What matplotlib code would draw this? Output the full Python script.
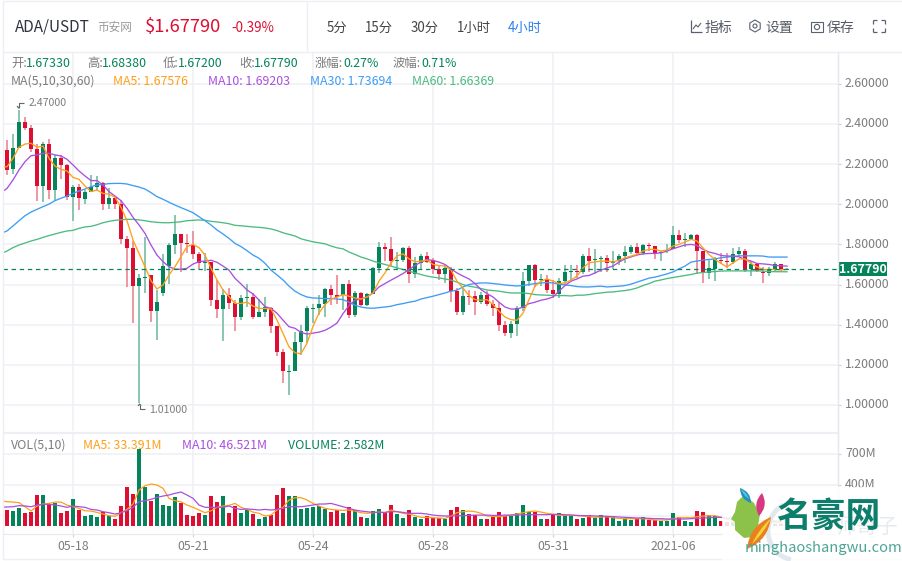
import numpy as np
import matplotlib
matplotlib.use('Agg')
import matplotlib.pyplot as plt
from matplotlib.patches import Arc, Circle, PathPatch, Polygon, Rectangle, RegularPolygon
from matplotlib.path import Path
from matplotlib.transforms import ScaledTranslation

plt.rcParams['font.family'] = ['Noto Sans CJK SC', 'DejaVu Sans']

# OHLC per 4h candle
highs = [2.32, 2.35, 2.47, 2.435, 2.395, 2.30, 2.31, 2.325, 2.245, 2.245,
         2.20, 2.096, 2.10, 2.07, 2.146, 2.14, 2.11, 2.08, 2.04, 2.02,
         1.84, 1.817, 1.652, 1.837, 1.648, 1.573, 1.752, 1.807, 1.947, 1.852,
         1.852, 1.867, 1.762, 1.757, 1.712, 1.623, 1.578, 1.583, 1.523, 1.548,
         1.603, 1.558, 1.528, 1.538, 1.488, 1.393, 1.279, 1.199, 1.363, 1.40,
         1.495, 1.505, 1.55, 1.585, 1.60, 1.65, 1.605, 1.625, 1.57, 1.565,
         1.56, 1.685, 1.81, 1.805, 1.835, 1.76, 1.785, 1.79, 1.735, 1.75,
         1.76, 1.73, 1.695, 1.695, 1.685, 1.585, 1.585, 1.575, 1.57, 1.565,
         1.57, 1.525, 1.515, 1.42, 1.42, 1.495, 1.665, 1.695, 1.70, 1.655,
         1.65, 1.625, 1.635, 1.695, 1.695, 1.695, 1.75, 1.78, 1.775, 1.74,
         1.745, 1.765, 1.75, 1.79, 1.795, 1.805, 1.80, 1.805, 1.79, 1.765,
         1.80, 1.89, 1.87, 1.855, 1.85, 1.85, 1.765, 1.725, 1.735, 1.755,
         1.755, 1.78, 1.785, 1.775, 1.715, 1.708, 1.685, 1.685, 1.71, 1.70, 1.6838]
lows = [2.146, 2.15, 2.28, 2.37, 2.26, 2.016, 2.01, 2.026, 2.016, 2.126,
        2.02, 1.917, 1.97, 2.00, 2.06, 2.066, 1.97, 1.976, 1.976, 1.80,
        1.588, 1.408, 1.01, 1.558, 1.413, 1.324, 1.543, 1.603, 1.752, 1.662,
        1.757, 1.727, 1.677, 1.667, 1.493, 1.432, 1.319, 1.478, 1.368, 1.423,
        1.488, 1.428, 1.438, 1.438, 1.358, 1.244, 1.109, 1.05, 1.169, 1.25,
        1.31, 1.41, 1.45, 1.44, 1.50, 1.505, 1.475, 1.435, 1.44, 1.495,
        1.495, 1.555, 1.66, 1.715, 1.69, 1.675, 1.71, 1.61, 1.635, 1.675,
        1.705, 1.655, 1.625, 1.61, 1.515, 1.45, 1.45, 1.50, 1.45, 1.505,
        1.495, 1.445, 1.37, 1.345, 1.335, 1.345, 1.47, 1.595, 1.59, 1.595,
        1.56, 1.535, 1.535, 1.605, 1.62, 1.635, 1.655, 1.665, 1.655, 1.665,
        1.665, 1.675, 1.695, 1.705, 1.75, 1.745, 1.745, 1.765, 1.725, 1.715,
        1.755, 1.775, 1.805, 1.785, 1.82, 1.655, 1.61, 1.63, 1.62, 1.70,
        1.68, 1.70, 1.742, 1.665, 1.645, 1.665, 1.61, 1.645, 1.67, 1.67, 1.672]
opens = [2.27, 2.176, 2.28, 2.41, 2.38, 2.275, 2.09, 2.30, 2.07, 2.23,
         2.196, 2.036, 2.086, 2.026, 2.06, 2.086, 2.106, 2.00, 2.03, 2.00,
         1.827, 1.782, 1.593, 1.633, 1.648, 1.468, 1.558, 1.692, 1.797, 1.852,
         1.807, 1.797, 1.752, 1.707, 1.712, 1.523, 1.478, 1.548, 1.508, 1.438,
         1.533, 1.538, 1.438, 1.463, 1.483, 1.393, 1.264, 1.164, 1.169, 1.315,
         1.37, 1.48, 1.485, 1.505, 1.58, 1.55, 1.55, 1.605, 1.45, 1.56,
         1.50, 1.555, 1.68, 1.785, 1.775, 1.715, 1.72, 1.78, 1.655, 1.705,
         1.74, 1.72, 1.675, 1.655, 1.675, 1.57, 1.465, 1.545, 1.545, 1.515,
         1.55, 1.505, 1.485, 1.40, 1.36, 1.405, 1.485, 1.62, 1.695, 1.625,
         1.63, 1.575, 1.555, 1.62, 1.665, 1.67, 1.665, 1.74, 1.72, 1.725,
         1.73, 1.705, 1.715, 1.74, 1.76, 1.785, 1.755, 1.795, 1.79, 1.755,
         1.765, 1.775, 1.845, 1.82, 1.825, 1.845, 1.765, 1.66, 1.675, 1.72,
         1.715, 1.71, 1.75, 1.765, 1.675, 1.70, 1.663, 1.658, 1.675, 1.70, 1.6733]
closes = [2.17, 2.28, 2.41, 2.38, 2.275, 2.09, 2.30, 2.07, 2.23, 2.196,
          2.036, 2.086, 2.03, 2.06, 2.086, 2.106, 2.00, 2.03, 2.00, 1.827,
          1.782, 1.593, 1.633, 1.638, 1.468, 1.513, 1.692, 1.797, 1.852, 1.807,
          1.802, 1.752, 1.707, 1.712, 1.523, 1.478, 1.548, 1.508, 1.438, 1.533,
          1.538, 1.438, 1.463, 1.488, 1.393, 1.264, 1.169, 1.169, 1.314, 1.37,
          1.485, 1.485, 1.505, 1.58, 1.55, 1.54, 1.605, 1.45, 1.56, 1.50,
          1.555, 1.68, 1.785, 1.775, 1.715, 1.72, 1.78, 1.655, 1.705, 1.74,
          1.71, 1.675, 1.655, 1.68, 1.57, 1.465, 1.545, 1.54, 1.515, 1.55,
          1.505, 1.485, 1.40, 1.36, 1.405, 1.485, 1.62, 1.695, 1.625, 1.63,
          1.575, 1.555, 1.62, 1.665, 1.67, 1.665, 1.74, 1.715, 1.725, 1.73,
          1.705, 1.715, 1.74, 1.76, 1.785, 1.755, 1.795, 1.79, 1.755, 1.76,
          1.77, 1.845, 1.82, 1.825, 1.845, 1.765, 1.66, 1.68, 1.725, 1.715,
          1.71, 1.75, 1.765, 1.675, 1.70, 1.67, 1.658, 1.678, 1.70, 1.675, 1.6779]

# moving averages start one candle before the first visible one
ma5 = [2.186, 2.187, 2.229, 2.284, 2.30, 2.304, 2.284, 2.29, 2.229, 2.19, 2.174,
       2.166, 2.134, 2.124, 2.091, 2.063, 2.071, 2.054, 2.05, 2.035, 1.985,
       1.918, 1.822, 1.755, 1.689, 1.619, 1.578, 1.598, 1.648, 1.689, 1.739,
       1.789, 1.80, 1.784, 1.747, 1.681, 1.623, 1.573, 1.54, 1.506, 1.506,
       1.513, 1.493, 1.481, 1.481, 1.478, 1.423, 1.357, 1.29, 1.26, 1.255,
       1.308, 1.392, 1.458, 1.50, 1.528, 1.538, 1.55, 1.542, 1.533, 1.528,
       1.538, 1.558, 1.617, 1.658, 1.708, 1.742, 1.753, 1.728, 1.713, 1.717,
       1.722, 1.70, 1.695, 1.692, 1.672, 1.617, 1.583, 1.545, 1.525, 1.522,
       1.525, 1.50, 1.467, 1.438, 1.425, 1.422, 1.458, 1.525, 1.592, 1.617,
       1.628, 1.617, 1.605, 1.608, 1.622, 1.642, 1.683, 1.708, 1.713, 1.717,
       1.717, 1.712, 1.722, 1.733, 1.742, 1.75, 1.767, 1.775, 1.775, 1.767,
       1.772, 1.792, 1.80, 1.812, 1.825, 1.817, 1.783, 1.75, 1.725, 1.705,
       1.688, 1.708, 1.728, 1.728, 1.705, 1.688, 1.675, 1.675, 1.675, 1.673, 1.6758]
ma10 = [2.058, 2.079, 2.121, 2.171, 2.212, 2.242, 2.246, 2.254, 2.254, 2.246, 2.241,
        2.224, 2.196, 2.166, 2.141, 2.118, 2.118, 2.096, 2.063, 2.041, 2.018,
        1.98, 1.935, 1.897, 1.855, 1.797, 1.747, 1.714, 1.689, 1.677, 1.676,
        1.681, 1.702, 1.714, 1.717, 1.721, 1.711, 1.692, 1.672, 1.631, 1.603,
        1.573, 1.553, 1.523, 1.49, 1.481, 1.457, 1.423, 1.39, 1.382, 1.362,
        1.353, 1.358, 1.363, 1.372, 1.388, 1.408, 1.455, 1.495, 1.522, 1.528,
        1.538, 1.558, 1.588, 1.605, 1.622, 1.638, 1.655, 1.675, 1.695, 1.712,
        1.725, 1.72, 1.712, 1.70, 1.678, 1.658, 1.642, 1.628, 1.605, 1.575,
        1.555, 1.538, 1.512, 1.488, 1.478, 1.478, 1.488, 1.505, 1.512, 1.522,
        1.528, 1.538, 1.567, 1.595, 1.617, 1.628, 1.642, 1.645, 1.658, 1.672,
        1.683, 1.692, 1.712, 1.728, 1.738, 1.747, 1.753, 1.755, 1.755, 1.758,
        1.767, 1.778, 1.788, 1.797, 1.80, 1.795, 1.775, 1.762, 1.755, 1.745,
        1.742, 1.742, 1.738, 1.725, 1.717, 1.705, 1.703, 1.70, 1.695, 1.693, 1.692]
ma30 = [1.855, 1.867, 1.892, 1.918, 1.943, 1.961, 1.975, 1.988, 2.001, 2.018, 2.03,
        2.041, 2.054, 2.066, 2.076, 2.088, 2.096, 2.099, 2.103, 2.104, 2.104,
        2.101, 2.093, 2.086, 2.076, 2.058, 2.038, 2.025, 2.01, 1.996, 1.983,
        1.971, 1.958, 1.938, 1.918, 1.897, 1.872, 1.852, 1.83, 1.805, 1.789,
        1.769, 1.747, 1.731, 1.706, 1.672, 1.648, 1.623, 1.592, 1.567, 1.55,
        1.538, 1.533, 1.532, 1.53, 1.53, 1.528, 1.525, 1.512, 1.497, 1.488,
        1.483, 1.482, 1.485, 1.488, 1.492, 1.50, 1.505, 1.512, 1.517, 1.528,
        1.535, 1.542, 1.55, 1.558, 1.567, 1.572, 1.588, 1.60, 1.605, 1.608,
        1.608, 1.605, 1.602, 1.598, 1.595, 1.593, 1.595, 1.60, 1.605, 1.608,
        1.61, 1.608, 1.602, 1.598, 1.595, 1.59, 1.588, 1.588, 1.59, 1.592,
        1.588, 1.59, 1.592, 1.595, 1.602, 1.612, 1.622, 1.632, 1.637, 1.645,
        1.653, 1.663, 1.678, 1.692, 1.712, 1.717, 1.722, 1.725, 1.728, 1.733,
        1.737, 1.74, 1.743, 1.743, 1.743, 1.743, 1.742, 1.737, 1.737, 1.737, 1.7369]
ma60 = [1.754, 1.767, 1.784, 1.797, 1.807, 1.817, 1.825, 1.835, 1.844, 1.852, 1.86,
        1.867, 1.87, 1.88, 1.887, 1.89, 1.898, 1.908, 1.915, 1.92, 1.923,
        1.925, 1.925, 1.922, 1.918, 1.913, 1.91, 1.908, 1.908, 1.91, 1.913,
        1.918, 1.92, 1.922, 1.92, 1.915, 1.912, 1.908, 1.903, 1.895, 1.893,
        1.89, 1.887, 1.885, 1.882, 1.877, 1.869, 1.858, 1.85, 1.842, 1.828,
        1.82, 1.813, 1.808, 1.803, 1.792, 1.783, 1.778, 1.762, 1.75, 1.737,
        1.728, 1.717, 1.708, 1.70, 1.692, 1.683, 1.675, 1.667, 1.658, 1.65,
        1.642, 1.637, 1.633, 1.628, 1.622, 1.612, 1.60, 1.592, 1.587, 1.58,
        1.573, 1.57, 1.567, 1.562, 1.558, 1.558, 1.558, 1.555, 1.55, 1.548,
        1.547, 1.545, 1.545, 1.545, 1.543, 1.547, 1.547, 1.55, 1.555, 1.558,
        1.562, 1.563, 1.567, 1.57, 1.575, 1.583, 1.595, 1.605, 1.617, 1.623,
        1.63, 1.635, 1.64, 1.645, 1.65, 1.657, 1.66, 1.663, 1.665, 1.667,
        1.668, 1.668, 1.668, 1.668, 1.668, 1.668, 1.667, 1.665, 1.664, 1.664, 1.6637]

# volume in millions
volumes = [155, 145, 174, 126, 135, 300, 300, 213, 223, 126,
           145, 261, 155, 97, 106, 87, 135, 97, 68, 194,
           377, 310, 745, 377, 242, 310, 203, 194, 281, 223,
           106, 97, 126, 106, 290, 232, 290, 126, 194, 126,
           155, 116, 68, 87, 106, 300, 368, 290, 290, 165,
           174, 184, 194, 165, 135, 155, 126, 184, 155, 87,
           77, 145, 165, 126, 203, 116, 77, 155, 87, 68,
           97, 77, 77, 68, 155, 184, 155, 116, 106, 68,
           68, 87, 135, 97, 97, 126, 203, 135, 135, 68,
           68, 106, 126, 106, 97, 68, 77, 106, 77, 106,
           97, 97, 48, 77, 58, 68, 87, 58, 58, 48,
           48, 126, 87, 48, 39, 145, 135, 106, 97, 48,
           39, 39, 30, 30, 39, 30, 30, 25, 20, 15, 2.6]
vol_ma5 = [242, 235, 232, 226, 187, 145, 194, 213, 219, 232, 232, 203, 187, 171, 148, 145,
           132, 116, 100, 94, 129, 161, 213, 348, 390, 406, 397, 365, 268, 245, 235, 203,
           181, 155, 129, 148, 181, 194, 200, 219, 181, 161, 135, 123, 97, 106, 155, 181,
           252, 274, 274, 252, 219, 194, 171, 161, 155, 152, 155, 145, 129, 123, 129, 135,
           129, 155, 139, 123, 116, 100, 84, 84, 81, 77, 74, 97,
           129, 139, 145, 139, 123, 97, 94, 90, 97, 106, 116, 129, 139, 145, 135, 123,
           113, 103, 103, 106, 100, 97, 90, 84, 87, 90, 81, 74, 71, 71, 71, 71,
           65, 58, 58, 58, 71, 81, 81, 81, 90, 97, 100, 100, 84, 65, 52, 42,
           39, 35, 33, 33, 33, 33, 33.4]
vol_ma10 = [181, 184, 187, 197, 194, 187, 203, 210, 210, 203, 194, 181, 194, 187, 181, 161,
            155, 139, 129, 116, 129, 148, 181, 235, 245, 258, 277, 290, 300, 316, 329, 300,
            268, 203, 181, 181, 181, 181, 194, 171, 161, 165, 161, 155, 161, 155, 161, 171,
            187, 187, 187, 194, 203, 213, 213, 219, 203, 187, 171, 155, 145, 139, 132, 132,
            132, 139, 139, 132, 123, 123, 123, 116, 106, 100, 97, 97,
            100, 100, 103, 106, 106, 106, 103, 103, 106, 106, 106, 110, 110, 110, 110, 110,
            113, 113, 110, 106, 103, 100, 100, 97, 97, 94, 90, 87, 84, 81, 78, 78,
            74, 71, 71, 68, 68, 68, 68, 71, 74, 78, 81, 84, 84, 78, 71, 65,
            60, 55, 52, 50, 49, 48, 46.5]

price_ticks = [1.0, 1.2, 1.4, 1.6, 1.8, 2.0, 2.2, 2.4, 2.6]
vol_ticks = [100, 400, 700]
# the 100M label sits under the watermark in the picture
vol_labels = ['', '400M', '700M']
date_ticks = [11, 31, 51, 71, 91, 111]
date_labels = ['05-18', '05-21', '05-24', '05-28', '05-31', '2021-06']
last_price = 1.6779

UP = '#05835a'
DOWN = '#dc0e32'
UP_WICK = '#7dbfa6'
DOWN_WICK = '#ec8a99'
C_MA5 = '#ff9f1a'
C_MA10 = '#a94fe0'
C_MA30 = '#3d9cf5'
C_MA60 = '#4cbb7f'
GRID = '#eef0f5'
GRAY = '#7d7d7d'

W, H = 902, 561


def px_axes(fig, left, top, right, bottom, **kw):
    return fig.add_axes([left / W, 1 - bottom / H, (right - left) / W, (bottom - top) / H], **kw)


def style_pane(ax):
    for name, sp in ax.spines.items():
        sp.set_visible(name == 'right')
        sp.set_color('#e6e8ef')
    ax.yaxis.tick_right()
    ax.grid(True, color=GRID, linewidth=1.1)
    ax.set_axisbelow(True)
    ax.tick_params(axis='y', length=2.5, width=0.8, color='#cfcfcf', labelcolor=GRAY,
                   labelsize=8.9, pad=2.5)
    ax.set_xlim(-0.667, 138.5)
    ax.set_xticks(date_ticks)


fig = plt.figure(figsize=(W / 100, H / 100), dpi=100)
ax = px_axes(fig, 3, 52, 838, 431)
ax_vol = px_axes(fig, 3, 433, 838, 534)
style_pane(ax)
style_pane(ax_vol)

x = np.arange(len(closes))
o = np.array(opens)
c = np.array(closes)
colors = [UP if b >= a else DOWN for a, b in zip(opens, closes)]
wicks = [UP_WICK if b >= a else DOWN_WICK for a, b in zip(opens, closes)]

ax.vlines(x, lows, highs, colors=wicks, linewidth=1.25, zorder=2)
ax.bar(x, np.abs(c - o), bottom=np.minimum(o, c), width=0.68, color=colors, zorder=3)
ma_x = np.arange(-1, len(ma5) - 1)
ax.plot(ma_x, ma60, color=C_MA60, lw=0.95, zorder=4)
ax.plot(np.arange(-1, len(ma30) - 1), ma30, color=C_MA30, lw=0.95, zorder=4)
ax.plot(np.arange(-1, len(ma10) - 1), ma10, color=C_MA10, lw=0.95, zorder=5)
ax.plot(ma_x, ma5, color=C_MA5, lw=0.95, zorder=6)
ax.axhline(last_price, color=UP, lw=0.9, ls=(0, (3.5, 3)), zorder=7)

ax.set_ylim(0.8703, 2.7587)
ax.set_yticks(price_ticks)
ax.set_yticklabels([f'{v:.5f}' for v in price_ticks])
ax.tick_params(axis='x', length=0, labelbottom=False)

ax_vol.bar(x, volumes, width=0.68, color=colors, zorder=3)
ax_vol.plot(np.arange(-1, len(vol_ma5) - 1), vol_ma5, color=C_MA5, lw=0.9, zorder=4)
ax_vol.plot(np.arange(-1, len(vol_ma10) - 1), vol_ma10, color=C_MA10, lw=0.9, zorder=5)
ax_vol.set_ylim(-77, 900)
ax_vol.set_yticks(vol_ticks)
ax_vol.set_yticklabels(vol_labels)
ax_vol.set_xticklabels(date_labels)
ax_vol.tick_params(axis='x', length=2.5, width=0.8, color='#cfcfcf', labelcolor=GRAY,
                   labelsize=8.9, pad=2)
ax_vol.spines['bottom'].set_visible(True)
ax_vol.spines['bottom'].set_color('#e6e8ef')

# CJK font sits low in its box, nudge the axis labels up a little
nudge = ScaledTranslation(0, 1.5 / 100, fig.dpi_scale_trans)
for tick_label in ax.get_yticklabels() + ax_vol.get_yticklabels():
    tick_label.set_transform(tick_label.get_transform() + nudge)

# page furniture (header, legends, watermark), positioned in image pixels
ui = fig.add_axes([0, 0, 1, 1], zorder=10)
ui.set_xlim(0, W)
ui.set_ylim(H, 0)
ui.axis('off')
ui.patch.set_alpha(0)


def label(px, py, s, color=GRAY, size=8.9, ha='left', **kw):
    ui.text(px, py, s, color=color, fontsize=size, ha=ha, va='center', **kw)


def rule(xs, ys, color='#edeff4', lw=1.0, **kw):
    ui.plot(xs, ys, color=color, lw=lw, solid_capstyle='butt', **kw)


rule([3, 902], [1, 1])
rule([3, 3], [1, 559])
rule([3, 902], [52, 52])
rule([306.5, 306.5], [1, 52])
rule([3, 838], [432.5, 432.5], lw=1.6)
rule([3, 902], [559, 559])
rule([838, 838], [52, 534], color='#e6e8ef')

label(15, 27, 'ADA/USDT', color='#2f3340', size=11)
label(97.5, 27.5, '币安网', color='#9a9a9a', size=8.4)
label(145, 27, '$1.67790', color=DOWN, size=13.2)
label(231, 27.5, '-0.39%', color=DOWN, size=9.6)
for px, s, col in [(327, '5分', '#444444'), (365, '15分', '#444444'), (411, '30分', '#444444'),
                   (457, '1小时', '#444444'), (508, '4小时', '#2d7ff0')]:
    label(px, 27.5, s, color=col, size=9.6)
for px, s in [(705, '指标'), (765, '设置'), (827, '保存')]:
    label(px, 27.5, s, color='#555a66', size=10)

# toolbar icons
rule([691, 691, 702], [20, 32, 32], color='#5a6070', lw=0.9)
rule([693, 696, 698, 701], [29, 25, 27, 23], color='#5a6070', lw=0.8)
ui.add_patch(RegularPolygon((755, 26), 6, radius=6, fill=False, ec='#5a6070', lw=0.8))
ui.add_patch(Circle((755, 26), 2, fill=False, ec='#5a6070', lw=0.8))
ui.add_patch(Rectangle((811, 22), 12, 10, fill=False, ec='#5a6070', lw=0.8))
ui.add_patch(Circle((817, 27), 2.6, fill=False, ec='#5a6070', lw=0.8))
for sx, sy in [(873, 20), (885, 20), (873, 32), (885, 32)]:
    dx = 4 if sx < 880 else -4
    dy = 4 if sy < 26 else -4
    rule([sx, sx + dx], [sy, sy], color='#5a6070', lw=0.9)
    rule([sx, sx], [sy, sy + dy], color='#5a6070', lw=0.9)

# info rows
for px, s, col in [(11, '开:', GRAY), (26, '1.67330', UP), (87, '高:', GRAY), (102, '1.68380', UP),
                   (163, '低:', GRAY), (178, '1.67200', UP), (239, '收:', GRAY), (254, '1.67790', UP),
                   (315, '涨幅:', GRAY), (343, '0.27%', UP), (393, '波幅:', GRAY), (421, '0.71%', UP)]:
    label(px, 63.5, s, color=col)
for px, s, col in [(11, 'MA(5,10,30,60)', GRAY), (113, 'MA5: 1.67576', C_MA5),
                   (208, 'MA10: 1.69203', C_MA10), (310, 'MA30: 1.73694', C_MA30),
                   (412, 'MA60: 1.66369', C_MA60)]:
    label(px, 81.5, s, color=col)
for px, s, col in [(11, 'VOL(5,10)', GRAY), (83, 'MA5: 33.391M', C_MA5),
                   (182, 'MA10: 46.521M', C_MA10), (288, 'VOLUME: 2.582M', UP)]:
    label(px, 445.5, s, color=col)

# high / low callouts
label(29, 102.5, '2.47000', size=7.6)
rule([24, 18.5, 18.5], [103, 103, 108], color='#666666', lw=0.8)
rule([17, 18.5, 20], [106, 108, 106], color='#666666', lw=0.8)
label(149, 409.5, '1.01000', size=7.6)
rule([145, 139.5, 139.5], [409, 409, 404], color='#666666', lw=0.8)
rule([138, 139.5, 141], [406, 404, 406], color='#666666', lw=0.8)

# last price tag
ui.add_patch(Rectangle((838, 262), 49, 14, fc=UP, ec='none'))
label(862.5, 269, '1.67790', color='white', size=8.9, ha='center', fontweight='bold')


# watermark
def leaf(x0, y0, x1, y1, bulge, color, alpha=1.0, z=12):
    mx, my = (x0 + x1) / 2, (y0 + y1) / 2
    nx, ny = -(y1 - y0), (x1 - x0)
    p1 = (mx + nx * bulge, my + ny * bulge)
    p2 = (mx - nx * bulge, my - ny * bulge)
    path = Path([(x0, y0), p1, (x1, y1), p2, (x0, y0)],
                [Path.MOVETO, Path.CURVE3, Path.LINETO, Path.CURVE3, Path.LINETO])
    ui.add_patch(PathPatch(path, fc=color, ec='none', alpha=alpha, zorder=z))


ui.add_patch(Rectangle((722, 487), 180, 74, fc='white', ec='none', alpha=0.86, zorder=11))
ui.add_patch(Arc((796, 531), 56, 58, theta1=100, theta2=245, color='#e2e8f0', lw=3.5, zorder=11))
label(835, 527, '师哥子', color='#e8ebee', size=15, zorder=11)
ui.add_patch(Polygon([(744, 495), (737, 502), (735, 512), (731, 519), (735, 522), (735, 530),
                      (744, 538), (752, 537), (758, 526), (760, 514), (754, 503)],
                     closed=True, fc='#8cc24a', ec='none', zorder=12))
leaf(751, 503, 740, 488, 0.36, '#1f8fc0', z=13)
leaf(749, 499, 741, 489, 0.18, '#55c4dc', z=13)
leaf(759, 516, 762, 493, 0.36, '#d8387f', z=13)
leaf(747, 549, 771, 517, 0.3, '#e8801f', z=13)
leaf(752, 544, 771, 518, 0.1, '#f5d03a', z=14)
ui.text(828, 517, '名豪网', color='#0d7d6c', fontsize=25, fontweight='bold',
        ha='center', va='center', zorder=14)
ui.text(824, 548, 'minghaoshangwu.com', color='#4ea596', fontsize=10.6,
        ha='center', va='center', zorder=14)

fig.savefig('out.png', dpi=100, facecolor='white')
